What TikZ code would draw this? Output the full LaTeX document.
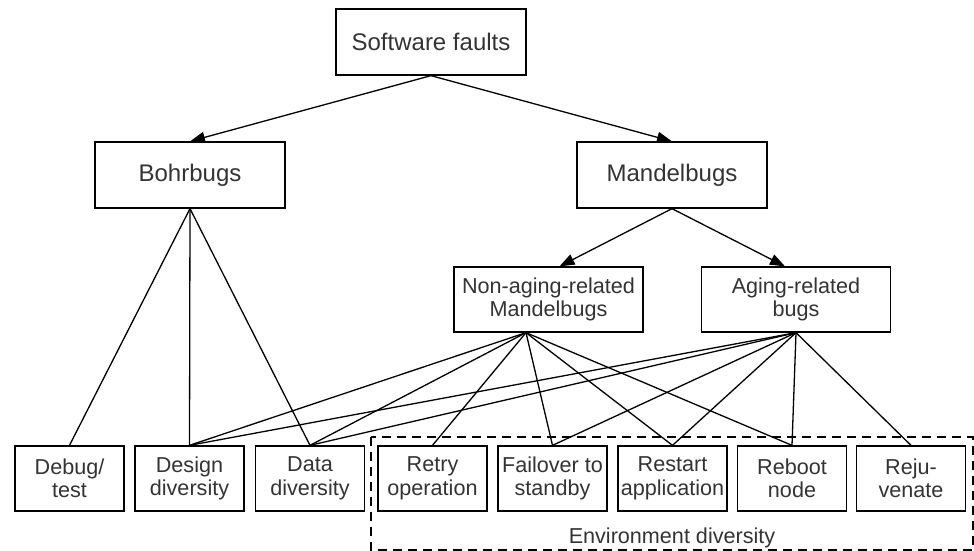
\documentclass[tikz,border=0pt]{standalone}
\usepackage{fontspec}
\setmainfont{Liberation Sans}
\usetikzlibrary{arrows.meta,calc}
\definecolor{inkgray}{RGB}{51,51,51}
\begin{document}
\begin{tikzpicture}[x=1pt,y=-1pt,
  box/.style={draw=black, line width=1.3pt, rectangle, inner sep=0pt, align=center, text=inkgray},
  bigbox/.style={box, minimum width=190pt, minimum height=66pt, font=\fontsize{24}{26}\selectfont},
  midbox/.style={box, minimum width=189pt, minimum height=65pt, font=\fontsize{21.6}{23.5}\selectfont},
  leaf/.style={box, minimum width=109pt, minimum height=65pt, font=\fontsize{21.6}{23.5}\selectfont},
  link/.style={line width=1.3pt},
  arr/.style={link, -{Triangle[length=15pt,width=11pt]}},
  envframe/.style={line width=1.3pt, dash pattern=on 9pt off 6pt},
]
\useasboundingbox (0,0) rectangle (974,551);

% fault classes
\node[bigbox] (sf)   at (431,42)  {Software faults};
\node[bigbox] (bohr) at (190,175) {Bohrbugs};
\node[bigbox] (mand) at (672,175) {Mandelbugs};
\node[midbox] (na)   at (548.5,299.5) {Non-aging-related\\Mandelbugs};
\node[midbox] (ag)   at (796,299.5)   {Aging-related\\bugs};

% techniques
\node[leaf] (debug)   at (69.5,478.5)  {Debug/\\test};
\node[leaf] (design)  at (189.5,478.5) {Design\\diversity};
\node[leaf] (data)    at (310,478.5)   {Data\\diversity};
\node[leaf] (retry)   at (432.5,478.5) {Retry\\operation};
\node[leaf] (fail)    at (552.5,478.5) {Failover to\\standby};
\node[leaf] (restart) at (672.5,478.5) {Restart\\application};
\node[leaf] (reboot)  at (792,478.5)   {Reboot\\node};
\node[leaf] (rejuv)   at (911,478.5)   {Reju-\\venate};

% environment diversity group
\draw[envframe] (371,437) rectangle (973,550);
\node[text=inkgray, font=\fontsize{21.6}{23.5}\selectfont, inner sep=0pt] (env) at (672,538) {Environment diversity};

% classification arrows
\draw[arr] (sf.south) -- (bohr.north);
\draw[arr] (sf.south) -- (mand.north);
\draw[arr] (mand.south) -- ($(na.north)+(11,0)$);
\draw[arr] (mand.south) -- ($(ag.north)+(-11,0)$);

% Bohrbug treatments
\foreach \t in {debug,design,data}
  \draw[link] (bohr.south) -- (\t.north);

% non-aging-related Mandelbug treatments
\coordinate (nahub) at ($(na.south)+(-22.5,0)$);
\foreach \t in {design,data,retry,fail,restart,reboot}
  \draw[link] (nahub) -- (\t.north);

% aging-related bug treatments
\foreach \t in {design,data,fail,restart,reboot,rejuv}
  \draw[link] (ag.south) -- (\t.north);
\end{tikzpicture}
\end{document}
